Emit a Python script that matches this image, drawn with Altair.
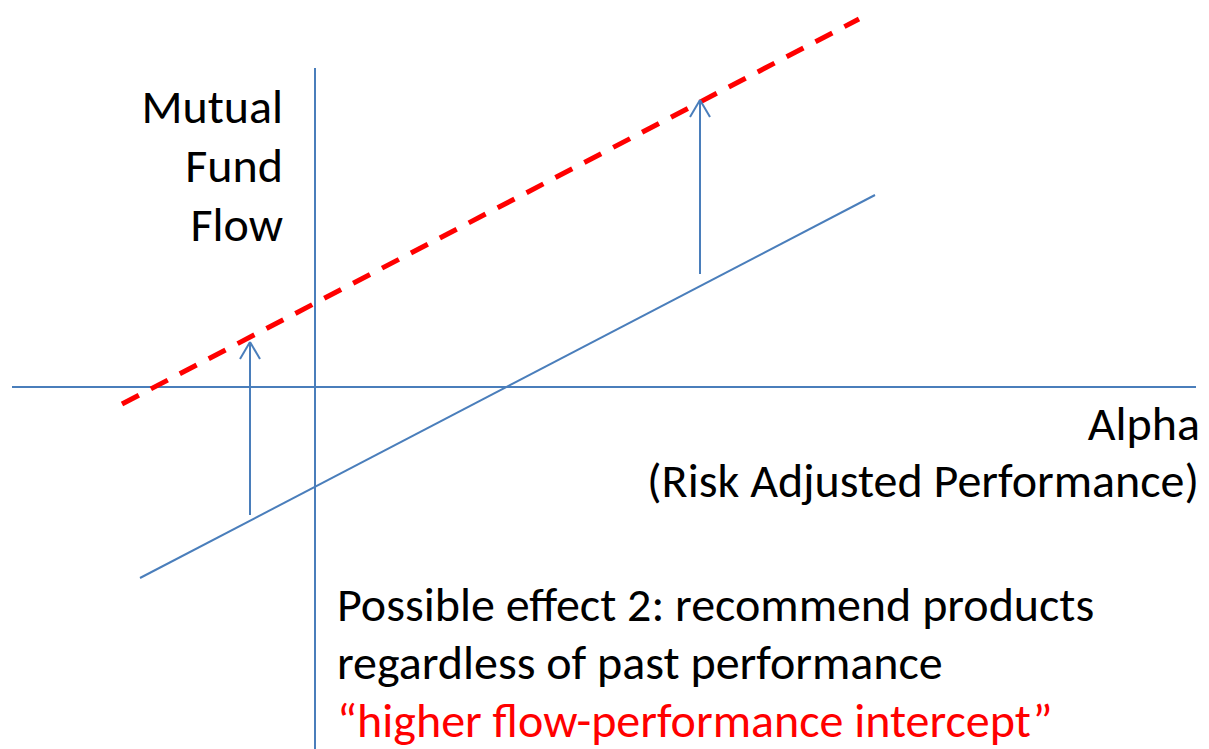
import altair as alt
import pandas as pd

# ---- data (diagram units: origin at axis crossing) ----
axis_seg_x = [-3.03, 0.0]
axis_seg_x2 = [8.81, 0.0]
axis_seg_y = [0.0, 3.19]
axis_seg_y2 = [0.0, -3.62]

base_line_x = [-1.75, 5.60]
base_line_y = [-1.91, 1.92]

shifted_line_x = [-1.93, 5.44]
shifted_line_y = [-0.17, 3.68]

arrow_x = [-0.65, 3.85]
arrow_from_y = [-1.28, 1.13]
arrow_to_y = [0.45, 2.87]
head_half_w = 0.10
head_len = 0.17

ylabel_lines = ["Mutual", "Fund", "Flow"]
ylabel_y = [2.64, 2.05, 1.46]
xlabel_lines = ["Alpha", "(Risk Adjusted Performance)"]
xlabel_y = [-0.53, -1.10]
xlabel_right = [8.85, 8.84]
note_lines = ["Possible effect 2: recommend products",
              "regardless of past performance",
              "\u201chigher flow-performance intercept\u201d"]
note_y = [-2.34, -2.92, -3.50]
note_colors = ["#000000", "#000000", "#FF0000"]

BLUE = "#4A7EBB"
FONT = "Carlito, Calibri, Lato"
FS = 48

W, H = 1193, 741
xs = alt.Scale(domain=[-3.07, 8.86], nice=False, zero=False)
ys = alt.Scale(domain=[-3.62, 3.79], nice=False, zero=False)

def X(f):
    return alt.X(f, type="quantitative", scale=xs, axis=None)

def Y(f):
    return alt.Y(f, type="quantitative", scale=ys, axis=None)

axes_df = pd.DataFrame({"x": axis_seg_x, "x2": axis_seg_x2, "y": axis_seg_y, "y2": axis_seg_y2})
axes = alt.Chart(axes_df).mark_rule(color=BLUE, strokeWidth=2).encode(
    x=X("x"), x2="x2", y=Y("y"), y2="y2")

base_df = pd.DataFrame({"x": base_line_x, "y": base_line_y})
base = alt.Chart(base_df).mark_line(color=BLUE, strokeWidth=2).encode(x=X("x"), y=Y("y"))

red_df = pd.DataFrame({"x": shifted_line_x, "y": shifted_line_y})
red = alt.Chart(red_df).mark_line(color="#FF0000", strokeWidth=5, strokeDash=[19, 13.6]).encode(
    x=X("x"), y=Y("y"))

# arrow shafts and heads
segs = []
for ax, y0, y1 in zip(arrow_x, arrow_from_y, arrow_to_y):
    segs.append({"x": ax, "x2": ax, "y": y0, "y2": y1})
    segs.append({"x": ax, "x2": ax - head_half_w, "y": y1, "y2": y1 - head_len})
    segs.append({"x": ax, "x2": ax + head_half_w, "y": y1, "y2": y1 - head_len})
arr_df = pd.DataFrame(segs)
arrows = alt.Chart(arr_df).mark_rule(color=BLUE, strokeWidth=2).encode(
    x=X("x"), x2="x2", y=Y("y"), y2="y2")

yl_df = pd.DataFrame({"t": ylabel_lines, "y": ylabel_y, "x": [-0.32] * 3})
ylab = alt.Chart(yl_df).mark_text(align="right", baseline="alphabetic", font=FONT,
                                  fontSize=FS, color="#000000").encode(
    x=X("x"), y=Y("y"), text="t")

xl_df = pd.DataFrame({"t": xlabel_lines, "y": xlabel_y, "x": xlabel_right})
xlab = alt.Chart(xl_df).mark_text(align="right", baseline="alphabetic", font=FONT,
                                  fontSize=FS, color="#000000").encode(
    x=X("x"), y=Y("y"), text="t")

nt_df = pd.DataFrame({"t": note_lines, "y": note_y, "x": [0.22] * 3, "c": note_colors})
note = alt.Chart(nt_df).mark_text(align="left", baseline="alphabetic", font=FONT,
                                  fontSize=FS).encode(
    x=X("x"), y=Y("y"), text="t", color=alt.Color("c:N", scale=None))

chart = alt.layer(axes, base, red, arrows, ylab, xlab, note).properties(
    width=W, height=H, padding=0, autosize=alt.AutoSizeParams(type="none")
).configure_view(stroke=None)

chart.save("out.html", embed_options={"renderer": "svg", "actions": False})
